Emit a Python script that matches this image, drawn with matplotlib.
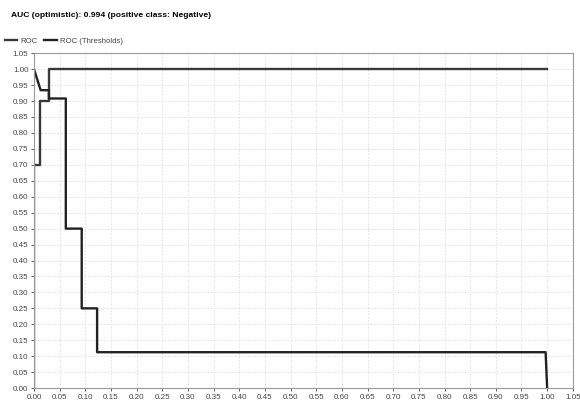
import numpy as np
import matplotlib
matplotlib.use("Agg")
import matplotlib.pyplot as plt

plt.rcParams["font.family"] = ["Liberation Sans", "DejaVu Sans"]

# ROC curve (false positive rate, true positive rate)
roc_fpr = [0.0, 0.0, 0.012, 0.012, 0.029, 0.029, 1.0]
roc_tpr = [0.0, 0.70, 0.70, 0.90, 0.90, 1.0, 1.0]

# ROC (Thresholds) curve
thr_fpr = [0.0, 0.013, 0.029, 0.029, 0.062, 0.062, 0.093, 0.093, 0.123, 0.123, 0.997, 1.0]
thr_val = [1.0, 0.934, 0.934, 0.908, 0.908, 0.50, 0.50, 0.25, 0.25, 0.1125, 0.1125, 0.0]

ticks = np.round(np.arange(0, 1.0501, 0.05), 2)
title = "AUC (optimistic): 0.994 (positive class: Negative)"

fig = plt.figure(figsize=(5.8, 4.03), dpi=100)
ax = fig.add_axes([0.0586, 0.037, 0.929, 0.831])

ax.plot(roc_fpr, roc_tpr, color="#3a3a3a", lw=1.7, label="ROC")
ax.plot(thr_fpr, thr_val, color="#222222", lw=1.7, label="ROC (Thresholds)")

ax.set_xlim(0, 1.05)
ax.set_ylim(0, 1.05)
ax.set_xticks(ticks)
ax.set_yticks(ticks)
ax.set_xticklabels([f"{t:.2f}" for t in ticks])
ax.set_yticklabels([f"{t:.2f}" for t in ticks])
ax.tick_params(labelsize=5.8, colors="#444444", length=2.5, width=0.6, pad=1.5)
ax.grid(True, color="#dddddd", linestyle=(0, (2, 2)), linewidth=0.6)
for s in ax.spines.values():
    s.set_color("#999999")
    s.set_linewidth(0.8)

fig.text(0.019, 0.961, title, fontsize=6.1, fontweight="bold", ha="left", va="center")
fig.legend(loc="upper left", bbox_to_anchor=(-0.004, 0.925), ncol=2, frameon=False,
           fontsize=5.6, handlelength=1.6, handletextpad=0.4, columnspacing=0.9,
           labelcolor="#444444")

fig.savefig("out.png", dpi=100)
